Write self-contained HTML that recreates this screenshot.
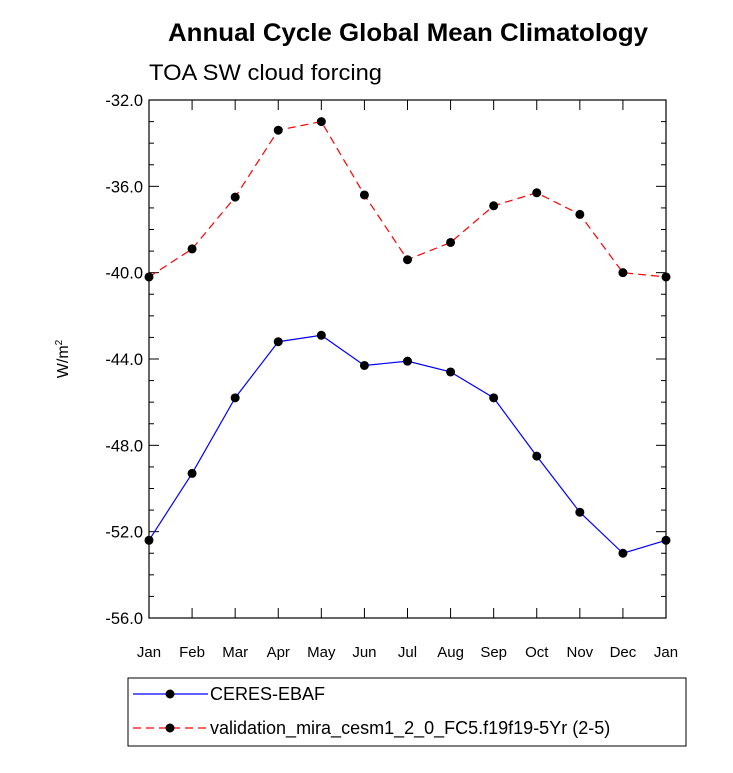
<!DOCTYPE html>
<html><head><meta charset="utf-8"><style>
body{margin:0;background:#fff;font-family:"Liberation Sans",sans-serif}
</style></head><body>
<svg width="733" height="768" xmlns="http://www.w3.org/2000/svg" font-family="Liberation Sans, sans-serif">
<text x="408" y="41" font-size="25" font-weight="bold" text-anchor="middle" textLength="480" lengthAdjust="spacingAndGlyphs">Annual Cycle Global Mean Climatology</text>
<text x="149" y="80" font-size="22" textLength="233" lengthAdjust="spacingAndGlyphs">TOA SW cloud forcing</text>
<text transform="translate(68,359) rotate(-90)" font-size="16" text-anchor="middle">W/m<tspan font-size="10" dy="-6">2</tspan></text>
<rect x="149" y="100" width="517" height="518" fill="none" stroke="#000" stroke-width="1.2"/>
<g id="axes"></g>
<g id="series"></g>
<rect x="128" y="678" width="558" height="68" fill="none" stroke="#000" stroke-width="1"/>
<line x1="133" y1="694" x2="208" y2="694" stroke="#0000ff" stroke-width="1.2"/>
<circle cx="170" cy="694" r="4.5" fill="#000"/>
<text x="210" y="700" font-size="18">CERES-EBAF</text>
<line x1="133" y1="728" x2="208" y2="728" stroke="#ff0000" stroke-width="1.2" stroke-dasharray="8,5"/>
<circle cx="170" cy="728" r="4.5" fill="#000"/>
<text x="210" y="734" font-size="18">validation_mira_cesm1_2_0_FC5.f19f19-5Yr (2-5)</text>
</svg>
<script>
const months=["Jan","Feb","Mar","Apr","May","Jun","Jul","Aug","Sep","Oct","Nov","Dec","Jan"];
const ceres=[-52.4,-49.3,-45.8,-43.2,-42.9,-44.3,-44.1,-44.6,-45.8,-48.5,-51.1,-53.0,-52.4];
const model=[-40.2,-38.9,-36.5,-33.4,-33.0,-36.4,-39.4,-38.6,-36.9,-36.3,-37.3,-40.0,-40.2];
const yTicks=[-32,-36,-40,-44,-48,-52,-56];
const NS="http://www.w3.org/2000/svg";
const X=i=>149+i*517/12;
const Y=v=>100+(-32-v)*518/24;
function mk(tag,attrs,parent){const e=document.createElementNS(NS,tag);for(const k in attrs)e.setAttribute(k,attrs[k]);parent.appendChild(e);return e;}
const ax=document.getElementById('axes');
for(let v=-32;v>=-56;v--){
  const major=v%4===0, L=major?10:5, y=Y(v);
  let t=mk('line',{x1:149,x2:149+L,y1:y,y2:y,stroke:'#000'},ax);
  
  
  t=mk('line',{x1:666,x2:666-L,y1:y,y2:y,stroke:'#000'},ax);
  
  
}
yTicks.forEach(v=>{
  const t=mk('text',{x:143,y:Y(v)+6,'font-size':16.5,'text-anchor':'end'},ax);t.textContent=v.toFixed(1);
  
  
});
months.forEach((m,i)=>{
  const x=X(i);
  let t=mk('line',{x1:x,x2:x,y1:618,y2:608,stroke:'#000'},ax);
  
  
  t=mk('line',{x1:x,x2:x,y1:100,y2:110,stroke:'#000'},ax);
  
  
  t=mk('text',{x:x,y:657,'font-size':15,'text-anchor':'middle'},ax);t.textContent=m;
  
  
});
const sg=document.getElementById('series');
function series(vals,color,dash,name){
  const p=mk('polyline',{points:vals.map((v,i)=>X(i)+','+Y(v)).join(' '),fill:'none',stroke:color,'stroke-width':1.2},sg);
  if(dash)p.setAttribute('stroke-dasharray',dash);
  
  
  vals.forEach((v,i)=>{
    const c=mk('circle',{cx:X(i),cy:Y(v),r:4.5,fill:'#000'},sg);
    
    
  });
}
series(ceres,'#0000ff',null,'ceres');
series(model,'#ff0000','8,5','model');
</script>
</body></html>
